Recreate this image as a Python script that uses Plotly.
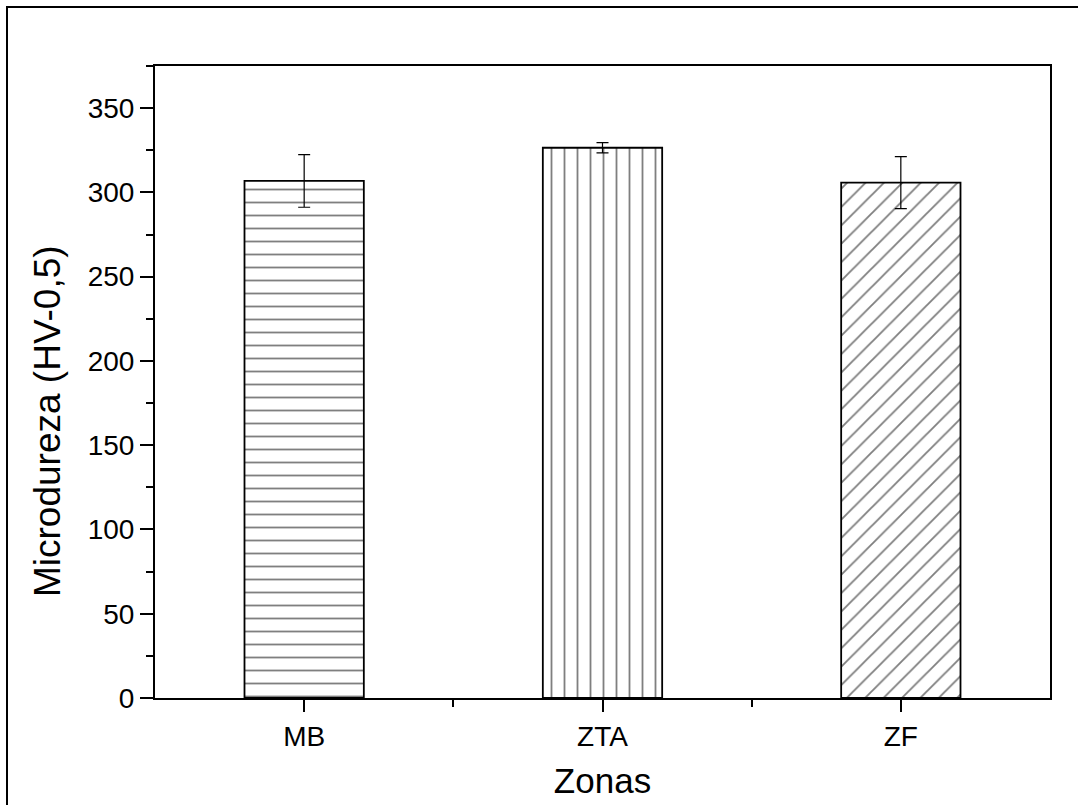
import plotly.graph_objects as go

# Microhardness by zone (HV-0,5), mean with error
zones = ["MB", "ZTA", "ZF"]
positions = [1, 2, 3]
hardness = [306.8, 326.5, 305.8]
hardness_err = [15.6, 3.0, 15.4]
hatches = ["-", "|", "/"]

FONT = "Liberation Sans, Arial, sans-serif"

fig = go.Figure()
for x, name, val, err, hatch in zip(positions, zones, hardness, hardness_err, hatches):
    fig.add_trace(go.Bar(
        x=[x], y=[val], name=name, width=0.4,
        marker=dict(
            color="white",
            line=dict(color="black", width=1.8),
            pattern=dict(shape=hatch, size=13, solidity=0.14,
                         fgcolor="black", bgcolor="white", fillmode="overlay"),
        ),
        error_y=dict(type="data", array=[err], visible=True,
                     color="black", thickness=1.2, width=6),
        showlegend=False,
    ))

axis_common = dict(
    showline=True, linecolor="black", linewidth=2, mirror=True,
    ticks="outside", tickcolor="black", tickwidth=2,
    showgrid=False, zeroline=False, automargin=False,
    tickfont=dict(family=FONT, size=28, color="black"),
)

fig.update_xaxes(
    **axis_common,
    range=[0.5, 3.5], tickmode="array", tickvals=positions, ticktext=zones,
    ticklen=12,
    minor=dict(tickmode="array", tickvals=[1.5, 2.5], ticklen=7,
               tickcolor="black", tickwidth=2, ticks="outside"),
    title=dict(text="Zonas", font=dict(family=FONT, size=35, color="black"), standoff=18),
)
fig.update_yaxes(
    **axis_common,
    range=[0, 375], tick0=0, dtick=50, ticklen=13,
    minor=dict(tick0=0, dtick=25, ticklen=7, tickcolor="black",
               tickwidth=2, ticks="outside"),
)

# Figure geometry in pixels
L, R, T, B = 155, 28, 66, 107
W, H = 1078, 805
pw, ph = W - L - R, H - T - B
def px_to_paper_x(px):
    return (px - L) / pw
def px_to_paper_y(py):
    return (H - B - py) / ph

# Y-axis title, placed explicitly
fig.add_annotation(
    text="Microdureza (HV-0,5)", textangle=-90, showarrow=False,
    xref="paper", yref="paper",
    x=px_to_paper_x(47), y=px_to_paper_y(421),
    xanchor="center", yanchor="middle",
    font=dict(family=FONT, size=37, color="black"),
)

# Outer frame around the whole figure
fig.add_shape(type="rect", xref="paper", yref="paper",
              x0=px_to_paper_x(7), x1=px_to_paper_x(1085),
              y0=px_to_paper_y(812), y1=px_to_paper_y(7),
              line=dict(color="black", width=2), fillcolor="rgba(0,0,0,0)", layer="below")

fig.update_layout(
    width=W, height=H,
    margin=dict(l=L, r=R, t=T, b=B, autoexpand=False),
    plot_bgcolor="white", paper_bgcolor="white",
    barmode="overlay",
    font=dict(family=FONT, color="black"),
)

fig.write_html("out.html")
